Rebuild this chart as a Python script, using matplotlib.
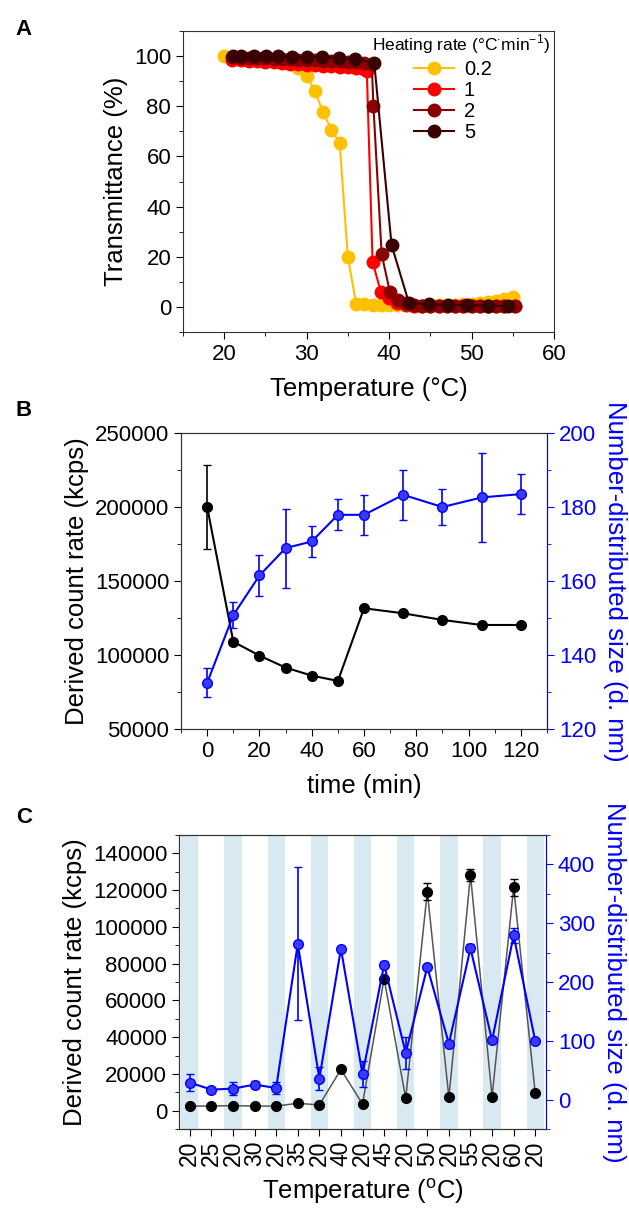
import numpy as np
import matplotlib.pyplot as plt
from matplotlib.ticker import MultipleLocator

plt.rcParams['font.family'] = ['Liberation Sans', 'DejaVu Sans']
plt.rcParams['mathtext.fontset'] = 'custom'
plt.rcParams['mathtext.rm'] = 'Liberation Sans'
plt.rcParams['axes.edgecolor'] = '#333333'

# ---- Panel A: transmittance vs temperature at several heating rates
rate_labels = ['0.2', '1', '2', '5']
rate_colors = ['#FFC000', '#FF0000', '#8B0000', '#3A0000']

t_02 = [20, 21, 22, 23, 24, 25, 26, 27, 28, 29, 30, 31, 32, 33, 34, 35, 36, 37,
        38, 39, 40, 41, 42, 43, 44, 45, 46, 47, 48, 49, 50, 51, 52, 53, 54, 55]
tr_02 = [100, 99.8, 99.6, 99.4, 99.2, 99.0, 98.7, 98.2, 97.3, 95.3, 92.2, 86.0,
         77.7, 70.6, 65.5, 20.0, 1.3, 1.0, 0.9, 0.8, 0.8, 0.7, 0.6, 0.5, 0.5,
         0.5, 0.6, 0.7, 0.8, 1.0, 1.2, 1.5, 1.9, 2.5, 3.2, 3.8]

t_1 = [21, 22, 23, 24, 25, 26, 27, 28, 29, 30, 31, 32, 33, 34, 35, 36, 37, 37.3,
       38, 39, 40, 41, 42, 43, 44, 45, 46, 47, 48, 49, 50, 51, 52, 53, 54, 55.3]
tr_1 = [98.5, 98.3, 98.1, 97.9, 97.7, 97.5, 97.3, 97.0, 96.8, 96.5, 96.3, 96.1,
        95.9, 95.7, 95.5, 95.2, 94.8, 94.0, 18.0, 6.0, 3.5, 1.5, 0.8, 0.4, 0.3,
        0.3, 0.3, 0.3, 0.3, 0.3, 0.3, 0.3, 0.3, 0.3, 0.3, 0.3]

t_2 = [21, 22, 23, 24, 25, 26, 27, 28, 29, 30, 31, 32, 33, 34, 35, 36, 37, 37.9,
       38.1, 39.1, 40.1, 41.1, 42, 43, 44, 45, 46, 47, 48, 49, 50, 51, 52, 53,
       54, 55.3]
tr_2 = [99.5, 99.4, 99.3, 99.2, 99.1, 99.0, 98.9, 98.8, 98.6, 98.5, 98.4, 98.2,
        98.1, 98.0, 97.8, 97.6, 97.4, 97.0, 80.0, 21.0, 6.0, 2.7, 1.5, 0.6, 0.5,
        0.5, 0.5, 0.5, 0.5, 0.5, 0.5, 0.4, 0.4, 0.4, 0.4, 0.4]

t_5 = [21.1, 22.0, 23.6, 25.1, 26.5, 28.2, 30.0, 31.9, 33.9, 35.9, 38.2, 40.3,
       42.4, 44.8, 47.2, 49.4, 52.0, 54.4]
tr_5 = [100, 100, 100, 100, 100, 99.6, 99.6, 99.5, 99.3, 98.8, 97.4, 24.7,
        1.7, 1.0, 0.8, 0.8, 0.5, 0.4]

# ---- Panel B: count rate and size vs time
time_b = [0, 10, 20, 30, 40, 50, 60, 75, 90, 105, 120]
count_b = [200000, 109000, 99600, 91500, 86100, 82500, 131600, 128200, 123700,
           120300, 120300]
count_b_err = [28500, 2000, 1500, 1500, 1500, 1500, 1500, 1500, 1500, 1500, 1500]
size_b = [132.5, 150.8, 161.5, 168.9, 170.7, 177.9, 177.9, 183.3, 180.0, 182.6, 183.5]
size_b_err = [3.9, 3.5, 5.6, 10.7, 4.2, 4.2, 5.4, 6.7, 4.9, 12.1, 5.3]

# ---- Panel C: heating / cooling cycles
temp_c = ['20', '25', '20', '30', '20', '35', '20', '40', '20', '45', '20', '50',
          '20', '55', '20', '60', '20']
count_c = [2500, 2500, 2700, 2500, 2500, 4000, 3100, 22400, 3600, 71800, 6700,
           119200, 7200, 128200, 7600, 121500, 9400]
count_c_err = [500, 500, 500, 500, 500, 500, 500, 500, 500, 1500, 500,
               4700, 500, 3300, 500, 4700, 500]
size_c = [28.9, 17.0, 18.7, 25.5, 19.8, 265.0, 35.7, 256.7, 43.0, 229.5, 79.3,
          225.5, 95.2, 257.2, 100.8, 279.3, 99.7]
size_c_err = [14, 5, 11, 6, 9.5, 130, 20, 5, 22, 6, 28, 4, 5, 7, 5, 13, 3]

blue = '#0000FF'
tick_fs = 16
label_fs = 18.5

fig = plt.figure(figsize=(6.29, 12.11), dpi=100)


def style_ticks(ax):
    ax.tick_params(which='both', direction='out', labelsize=tick_fs)
    ax.tick_params(which='major', length=5)
    ax.tick_params(which='minor', length=3)


# Panel A
ax_a = fig.add_axes([0.2909, 0.7258, 0.5898, 0.2486])
series_a = [(t_02, tr_02), (t_1, tr_1), (t_2, tr_2), (t_5, tr_5)]
for (tx, ty), lab, col in zip(series_a, rate_labels, rate_colors):
    ax_a.plot(tx, ty, '-o', color=col, ms=9, lw=1.5, label=lab)
ax_a.set_xlim(15, 60)
ax_a.set_ylim(-10, 110)
ax_a.xaxis.set_major_locator(MultipleLocator(10))
ax_a.xaxis.set_minor_locator(MultipleLocator(5))
ax_a.yaxis.set_major_locator(MultipleLocator(20))
ax_a.yaxis.set_minor_locator(MultipleLocator(10))
style_ticks(ax_a)
ax_a.set_xlabel('Temperature (°C)', fontsize=label_fs, labelpad=9)
ax_a.set_ylabel('Transmittance (%)', fontsize=label_fs)
ax_a.text(0.99, 0.955, 'Heating rate (°C$^{\\cdot}$min$^{-1}$)', transform=ax_a.transAxes,
          ha='right', va='center', fontsize=12.5)
ax_a.legend(loc='upper left', bbox_to_anchor=(0.6, 0.93), frameon=False,
            fontsize=14.5, handlelength=2.0, labelspacing=0.1, borderaxespad=0,
            handletextpad=0.5)
fig.text(0.025, 0.976, 'A', fontsize=16, fontweight='bold', va='center')

# Panel B
ax_b = fig.add_axes([0.2878, 0.398, 0.5819, 0.2444])
ax_b.errorbar(time_b, count_b, yerr=count_b_err, fmt='-o', color='black',
              ms=7, lw=1.5, capsize=3, elinewidth=1.2)
ax_b.set_xlim(-10, 130)
ax_b.set_ylim(50000, 250000)
ax_b.xaxis.set_major_locator(MultipleLocator(20))
ax_b.xaxis.set_minor_locator(MultipleLocator(10))
ax_b.yaxis.set_major_locator(MultipleLocator(50000))
ax_b.yaxis.set_minor_locator(MultipleLocator(25000))
style_ticks(ax_b)
ax_b.set_xlabel('time (min)', fontsize=label_fs, labelpad=9)
ax_b.set_ylabel('Derived count rate (kcps)', fontsize=label_fs)

ax_b2 = ax_b.twinx()
ax_b2.errorbar(time_b, size_b, yerr=size_b_err, fmt='-o', color=blue,
               mfc='#3a3aff', ms=7, lw=1.5, capsize=3, elinewidth=1.2)
ax_b2.set_ylim(120, 200)
ax_b2.yaxis.set_major_locator(MultipleLocator(20))
ax_b2.yaxis.set_minor_locator(MultipleLocator(10))
style_ticks(ax_b2)
ax_b2.tick_params(axis='y', which='both', colors=blue)
ax_b2.spines['right'].set_color(blue)
ax_b2.set_ylabel('Number-distributed size (d. nm)', fontsize=label_fs,
                 color=blue, rotation=270, labelpad=22)
fig.text(0.025, 0.661, 'B', fontsize=16, fontweight='bold', va='center')

# Panel C
ax_c = fig.add_axes([0.2846, 0.0677, 0.5835, 0.2428])
idx = list(range(len(temp_c)))
for i in idx[::2]:
    ax_c.axvspan(i - 0.4, i + 0.4, color='#d8e9f2', lw=0, zorder=0)
ax_c.plot(idx, count_c, '-', color='#555555', lw=1.1, zorder=2)
ax_c.errorbar(idx, count_c, yerr=count_c_err, fmt='o', color='black',
              ms=7, capsize=3, elinewidth=1.0, zorder=3)
ax_c.set_xlim(-0.5, 16.5)
ax_c.set_ylim(-10000, 150000)
ax_c.set_xticks(idx)
ax_c.set_xticklabels(temp_c, rotation=90)
ax_c.yaxis.set_major_locator(MultipleLocator(20000))
ax_c.yaxis.set_minor_locator(MultipleLocator(10000))
style_ticks(ax_c)
ax_c.tick_params(axis='x', labelsize=16.5)
ax_c.set_xlabel('Temperature ($^{\\rm o}$C)', fontsize=label_fs, labelpad=7)
ax_c.set_ylabel('Derived count rate (kcps)', fontsize=label_fs)

ax_c2 = ax_c.twinx()
ax_c2.errorbar(idx, size_c, yerr=size_c_err, fmt='-o', color=blue,
               mfc='#3a3aff', ms=7, lw=1.5, capsize=3, elinewidth=1.2)
ax_c2.set_ylim(-50, 450)
ax_c2.yaxis.set_major_locator(MultipleLocator(100))
ax_c2.yaxis.set_minor_locator(MultipleLocator(50))
style_ticks(ax_c2)
ax_c2.tick_params(axis='y', which='both', colors=blue)
ax_c2.spines['right'].set_color(blue)
ax_c2.set_ylabel('Number-distributed size (d. nm)', fontsize=label_fs,
                 color=blue, rotation=270, labelpad=22)
fig.text(0.025, 0.325, 'C', fontsize=16, fontweight='bold', va='center')

fig.savefig('out.png', dpi=100)
